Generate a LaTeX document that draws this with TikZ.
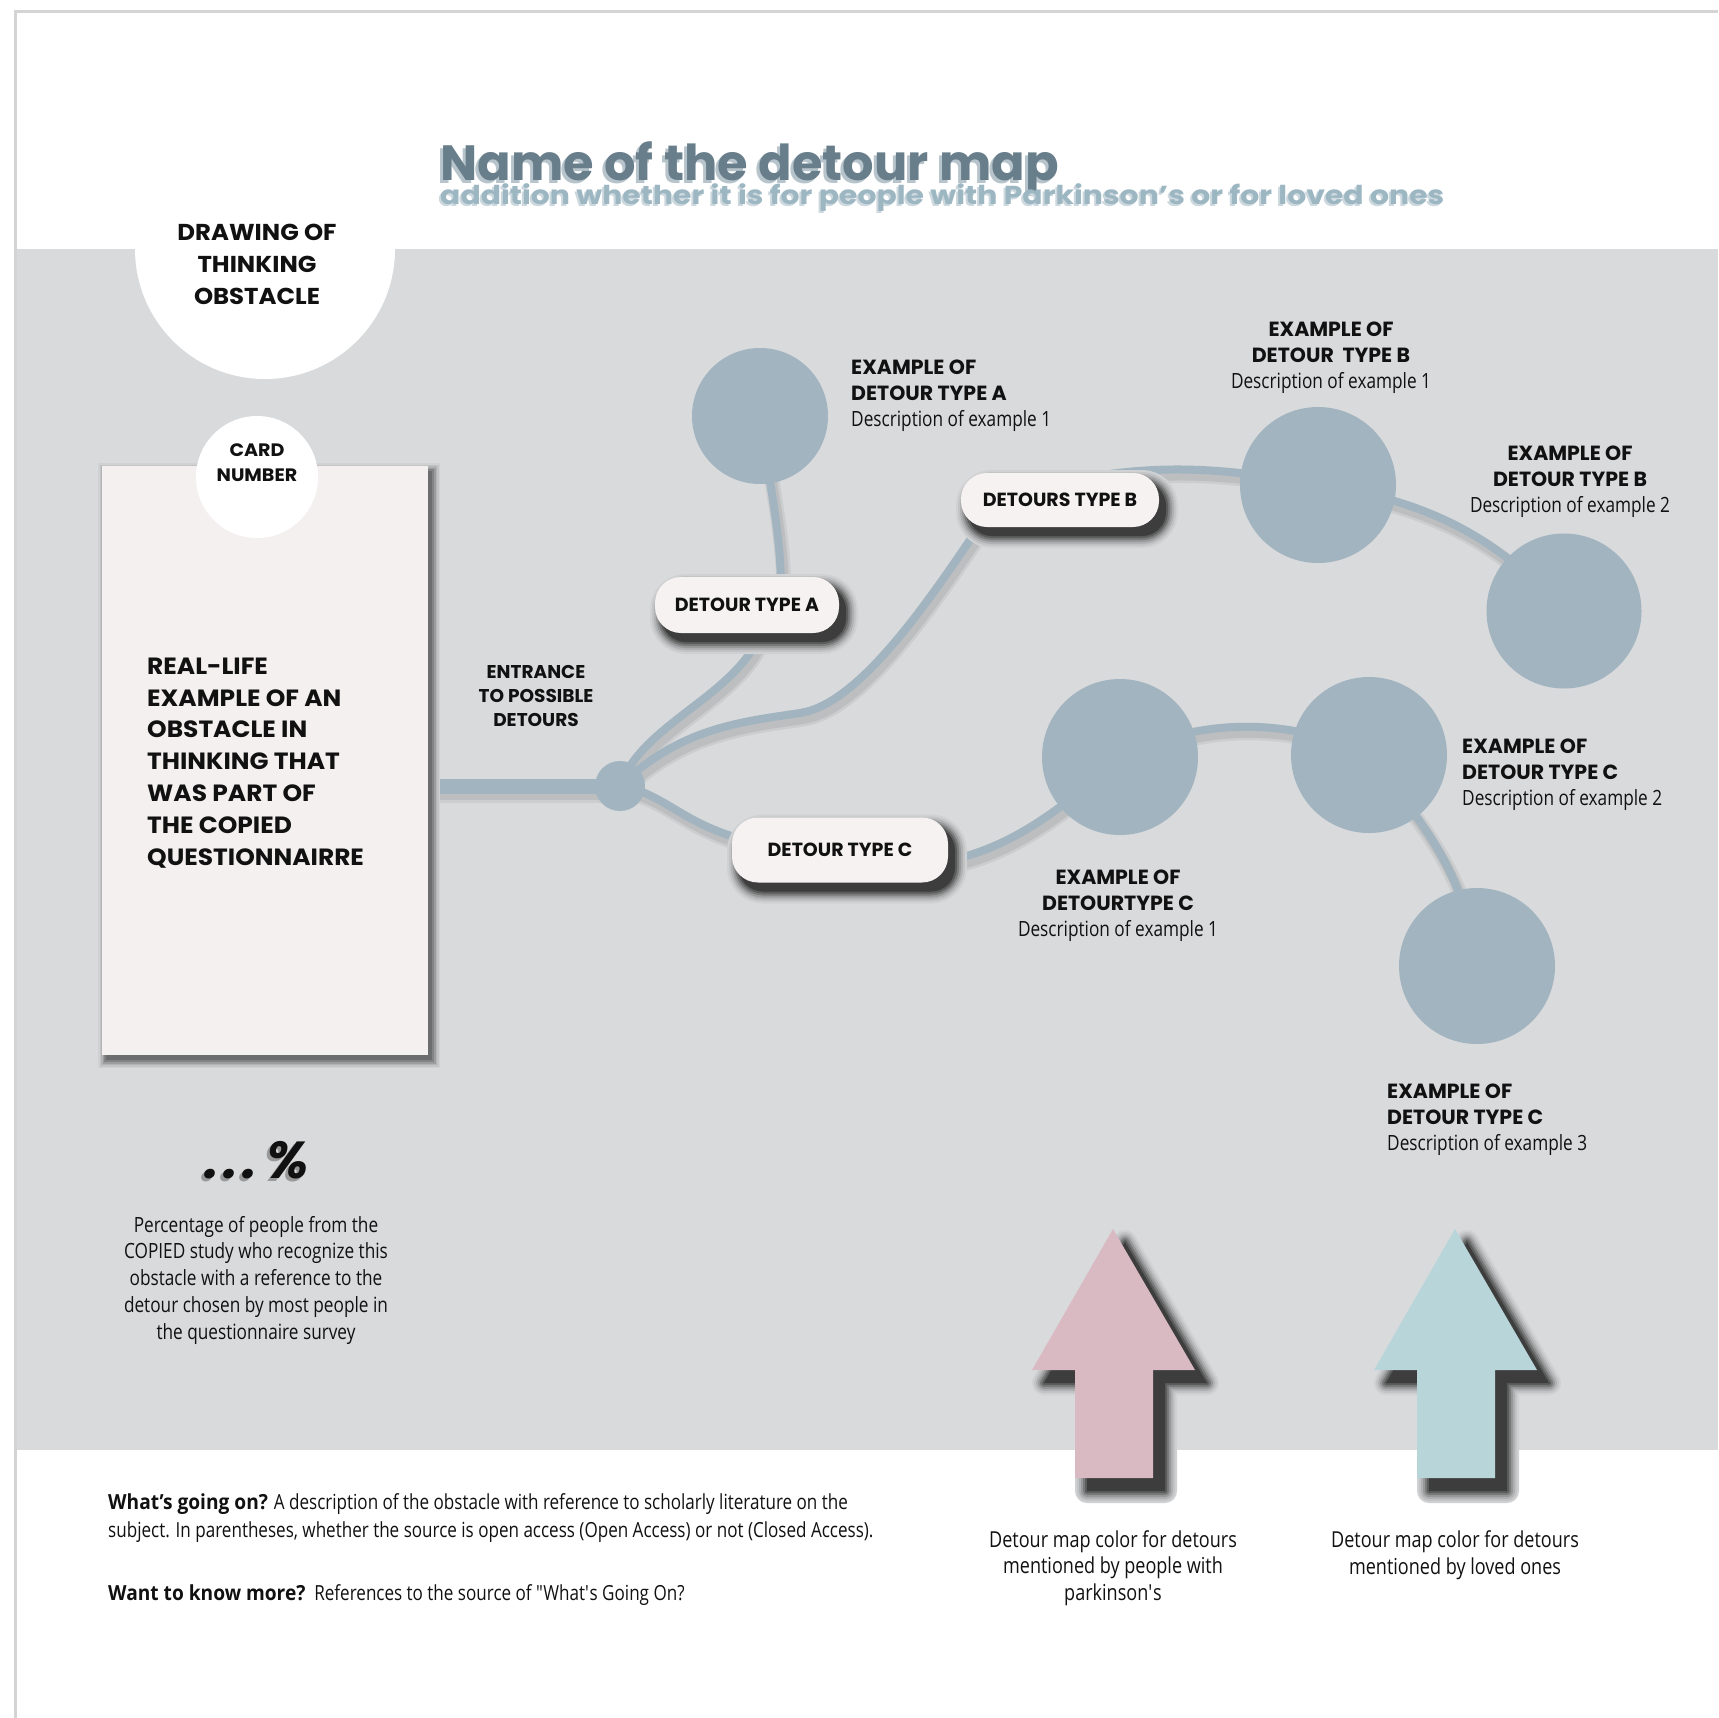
\documentclass[tikz,border=0pt]{standalone}
\usepackage{fontspec}
\setmainfont{Open Sans}
\newfontfamily\popfont{Poppins}
\newfontfamily\popwide[FakeStretch=1.15]{Poppins}
\newfontfamily\popcard[FakeStretch=1.06]{Poppins}
\newfontfamily\condfont[FakeStretch=0.82]{Open Sans}
\newfontfamily\condboldfont[FakeStretch=0.92]{Open Sans}
\usetikzlibrary{calc}
\definecolor{bandc}{HTML}{D9DADC}
\definecolor{nodec}{HTML}{A1B4BF}
\definecolor{titlec}{HTML}{687E8B}
\definecolor{titlesh}{HTML}{B7C4CB}
\definecolor{subc}{HTML}{9CB6C2}
\definecolor{subsh}{HTML}{CCD8DE}
\definecolor{cardc}{HTML}{F5F0F0}
\definecolor{pillc}{HTML}{F7F2F2}
\definecolor{pinkc}{HTML}{D9BAC3}
\definecolor{aquac}{HTML}{B8D5DA}
\definecolor{framec}{HTML}{D4D4D4}
\definecolor{inkc}{HTML}{111111}
\newcommand\boldf{\popfont\bfseries\fontsize{20.5}{26}\selectfont}
\newcommand\descf{\condfont\mdseries\fontsize{21}{26}\selectfont}
\newcommand\rdE{(cardE) -- (hub)}
\newcommand\rdA{(hub) .. controls (645,715) and (762,690) .. (pAin)}
\newcommand\rdAA{(pAtop) .. controls (782,540) and (772,500) .. (cA)}
\newcommand\rdB{(hub) .. controls (680,728) and (740,722) .. (800,713) .. controls (860,704) and (930,600) .. (pBin)}
\newcommand\rdBB{(pBtop) .. controls (1170,466) and (1230,468) .. (cB1)}
\newcommand\rdBC{(cB1) .. controls (1430,500) and (1500,540) .. (cB2)}
\newcommand\rdC{(hub) .. controls (680,795) and (690,850) .. (pillC)}
\newcommand\rdCA{(pCout) .. controls (990,855) and (1040,830) .. (cC1)}
\newcommand\rdCB{(cC1) .. controls (1200,717) and (1290,717) .. (cC2)}
\newcommand\rdCC{(cC2) .. controls (1420,820) and (1465,870) .. (cC3)}
\newcommand\pillshadow[3]{%
  \foreach \lw/\mix in {24/96,20/90,16/81,12/70,8/56,4/42}{%
    \draw[line width=\lw pt, draw=bandc!\mix!black, rounded corners=24pt]
      ($(#1)+(-#2+7,-#3+9)$) rectangle ($(#1)+(#2+7,#3+9)$);}
  \fill[bandc!28!black, rounded corners=24pt] ($(#1)+(-#2+7,-#3+9)$) rectangle ($(#1)+(#2+7,#3+9)$);}
\newcommand\arrowpoly{(0,1229) -- (82,1370) -- (40,1370) -- (40,1478) -- (-38,1478) -- (-38,1370) -- (-81,1370) -- cycle}
\newcommand\arrowshadow{%
  \foreach \lw/\mix in {24/96,20/90,16/81,12/70,8/56,4/42}{\draw[line width=\lw pt, draw=bandc!\mix!black, line join=round] \arrowpoly;}
  \fill[bandc!28!black] \arrowpoly;}
\tikzset{
  every node/.style={inner sep=0pt, text=inkc},
  lbl/.style={font=\boldf},
  pill/.style={rectangle, rounded corners=26pt, fill=pillc,
    font=\popfont\bfseries\fontsize{19}{19}\selectfont},
  dotc/.style={circle, fill=nodec},
  road/.style={draw=nodec, line width=8pt, line cap=round},
  roadsh1/.style={draw=bandc!94!black, line width=15pt, line cap=round},
  roadsh2/.style={draw=bandc!87!black, line width=10pt, line cap=round}
}
\begin{document}
\begin{tikzpicture}[x=1pt,y=-1pt]
\useasboundingbox (0,0) rectangle (1718,1718);
% background
\fill[white] (0,0) rectangle (1718,1718);
\fill[bandc] (15,249) rectangle (1718,1450);
\draw[framec, line width=3pt] (15,1718) -- (15,12) -- (1718,12);

% positions
\coordinate (hub) at (620,786);
\coordinate (cardE) at (428,786);
\coordinate (pillA) at (747,605);
\coordinate (pAin) at (767,605);
\coordinate (pAtop) at (781,600);
\coordinate (pillB) at (1060,500);
\coordinate (pBin) at (990,510);
\coordinate (pBtop) at (1110,474);
\coordinate (pillC) at (840,850);
\coordinate (pCout) at (930,864);
\coordinate (cA) at (760,416);
\coordinate (cB1) at (1318,485);
\coordinate (cB2) at (1564,611);
\coordinate (cC1) at (1120,757);
\coordinate (cC2) at (1369,755);
\coordinate (cC3) at (1477,966);

% connector shadows
\begin{scope}[transform canvas={shift={(3pt,-6pt)}}]
  \draw[roadsh1, line width=21pt] \rdE;
  \draw[roadsh2, line width=16pt] \rdE;
  \foreach \rd in {\rdA,\rdAA,\rdB,\rdBB,\rdBC,\rdC,\rdCA,\rdCB,\rdCC}{\draw[roadsh1] \rd; \draw[roadsh2] \rd;}
\end{scope}
% connectors
\draw[road, line width=15pt, line cap=butt] \rdE;
\draw[road] \rdA;
\draw[road] \rdAA;
\draw[road] \rdB;
\draw[road] \rdBB;
\draw[road] \rdBC;
\draw[road] \rdC;
\draw[road] \rdCA;
\draw[road] \rdCB;
\draw[road] \rdCC;

% title
\node[anchor=base west, text=titlesh, font=\popfont\bfseries\fontsize{49.5}{50}\selectfont] (titleS) at (437,183) {Name of the detour map};
\node[anchor=base west, text=titlec, font=\popfont\bfseries\fontsize{49.5}{50}\selectfont] (title) at (440,180) {Name of the detour map};
\node[anchor=base west, text=subsh, font=\popwide\bfseries\fontsize{26}{26}\selectfont] (subS) at (438,206) {addition whether it is for people with Parkinson’s or for loved ones};
\node[anchor=base west, text=subc, font=\popwide\bfseries\fontsize{26}{26}\selectfont] (sub) at (440,204) {addition whether it is for people with Parkinson’s or for loved ones};

% drawing circle
\node[circle, fill=white, minimum size=260pt] (drawc) at (265,249) {};
\node[anchor=base, align=center, font=\popcard\bfseries\fontsize{23}{32}\selectfont] (drawt) at (257,304) {DRAWING OF\\THINKING\\OBSTACLE};

% card
\foreach \lw/\mix in {16/96,13/90,10/82,7/72,4/60}{%
  \draw[line width=\lw pt, draw=bandc!\mix!black] (106,471) rectangle (432,1060);}
\fill[bandc!50!black] (106,471) rectangle (432,1060);
\node[rectangle, fill=cardc, minimum width=326pt, minimum height=589pt] (card) at (265,760.5) {};
\node[circle, fill=white, minimum size=122pt] (cnum) at (257,477) {};
\node[anchor=base, align=center, font=\popcard\bfseries\fontsize{18}{25}\selectfont] (cnumt) at (257,481) {CARD\\NUMBER};
\node[anchor=base west, align=left, font=\popcard\bfseries\fontsize{23.5}{31.8}\selectfont] (cardt) at (147,865)
  {REAL-LIFE\\EXAMPLE OF AN\\OBSTACLE IN\\THINKING THAT\\WAS PART OF\\THE COPIED\\QUESTIONNAIRRE};

% entrance
\node[anchor=base, align=center, font=\popfont\bfseries\fontsize{18.5}{24}\selectfont] (entr) at (536,726) {ENTRANCE\\TO POSSIBLE\\DETOURS};

% hub and circles
\node[dotc, minimum size=50pt] (hub) at (hub) {};
\node[dotc, minimum size=136pt] (cA) at (cA) {};
\node[dotc, minimum size=156pt] (cB1) at (cB1) {};
\node[dotc, minimum size=155pt] (cB2) at (cB2) {};
\node[dotc, minimum size=156pt] (cC1) at (cC1) {};
\node[dotc, minimum size=156pt] (cC2) at (cC2) {};
\node[dotc, minimum size=156pt] (cC3) at (cC3) {};

% pills
\pillshadow{pillA}{92}{28}
\pillshadow{pillB}{99}{27}
\pillshadow{pillC}{108}{32.5}
\node[pill, minimum width=184pt, minimum height=56pt] (pillA) at (pillA) {DETOUR TYPE A};
\node[pill, minimum width=198pt, minimum height=54pt] (pillB) at (pillB) {DETOURS TYPE B};
\node[pill, minimum width=216pt, minimum height=65pt] (pillC) at (pillC) {DETOUR TYPE C};

% labels
\node[lbl, anchor=base west, align=left] (lblA) at (851,426) {EXAMPLE OF\\DETOUR TYPE A\\{\descf Description of example 1}};
\node[lbl, anchor=base, align=center] (lblB1) at (1331,388) {EXAMPLE OF\\DETOUR\ \ TYPE B\\{\descf Description of example 1}};
\node[lbl, anchor=base, align=center] (lblB2) at (1570,512) {EXAMPLE OF\\DETOUR TYPE B\\{\descf Description of example 2}};
\node[lbl, anchor=base west, align=left] (lblC2) at (1462,805) {EXAMPLE OF\\DETOUR TYPE C\\{\descf Description of example 2}};
\node[lbl, anchor=base, align=center] (lblC1) at (1118,936) {EXAMPLE OF\\DETOURTYPE C\\{\descf Description of example 1}};
\node[lbl, anchor=base west, align=left] (lblC3) at (1387,1150) {EXAMPLE OF\\DETOUR TYPE C\\{\descf Description of example 3}};

% percentage
\node[anchor=base, text=black!40, font=\popfont\bfseries\itshape\fontsize{52}{52}\selectfont] (pctS) at (254,1181) {.\hspace{4pt}.\hspace{4pt}.\hspace{10pt}\%};
\node[anchor=base, font=\popfont\bfseries\itshape\fontsize{52}{52}\selectfont] (pct) at (257,1178) {.\hspace{4pt}.\hspace{4pt}.\hspace{10pt}\%};
\node[anchor=base, align=center, font=\condfont\fontsize{21}{26.7}\selectfont] (pctt) at (256,1339)
  {Percentage of people from the\\COPIED study who recognize this\\obstacle with a reference to the\\detour chosen by most people in\\the questionnaire survey};

% legend arrows
\begin{scope}[shift={(1125,13)}]\arrowshadow\end{scope}
\begin{scope}[shift={(1467,13)}]\arrowshadow\end{scope}
\fill[pinkc, shift={(1113,0)}] \arrowpoly;
\fill[aquac, shift={(1455,0)}] \arrowpoly;
\node[anchor=base, align=center, font=\condfont\fontsize{22}{26.5}\selectfont] (legP) at (1113,1600)
  {Detour map color for detours\\mentioned by people with\\parkinson\textquotesingle s};
\node[anchor=base, align=center, font=\condfont\fontsize{22}{26.5}\selectfont] (legL) at (1455,1574)
  {Detour map color for detours\\mentioned by loved ones};

% bottom text
\node[anchor=base west, align=left, font=\condfont\fontsize{20.8}{28}\selectfont] (whatt) at (108,1537)
  {{\condboldfont\bfseries What’s going on?} A description of the obstacle with reference to scholarly literature on the\\subject. In parentheses, whether the source is open access (Open Access) or not (Closed Access).};
\node[anchor=base west, font=\condfont\fontsize{20.8}{28}\selectfont] (moret) at (108,1600)
  {{\condboldfont\bfseries Want to know more?}\ \ References to the source of "What\textquotesingle s Going On?};
\end{tikzpicture}
\end{document}
